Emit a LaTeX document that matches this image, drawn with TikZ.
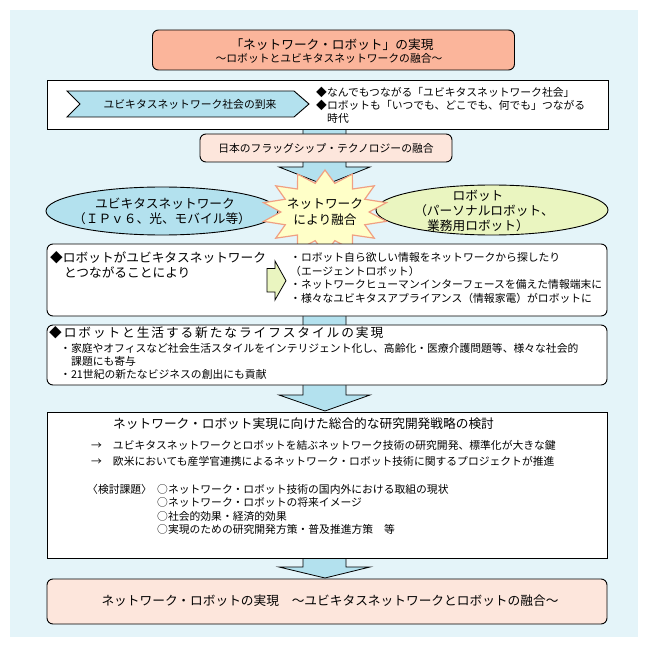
\documentclass[tikz,border=0pt]{standalone}
\usepackage{fontspec}
\setmainfont{Noto Sans CJK JP}
\newfontfamily\jpwide[LetterSpace=15]{Noto Sans CJK JP}
\usetikzlibrary{shapes.geometric}
\definecolor{bgblue}{RGB}{228,244,249}
\definecolor{salmon}{RGB}{251,181,155}
\definecolor{pinkfill}{RGB}{253,230,220}
\definecolor{arrowblue}{RGB}{179,225,238}
\definecolor{limefill}{RGB}{234,245,192}
\definecolor{burstfill}{RGB}{255,255,200}
\definecolor{burstline}{RGB}{240,160,130}
\tikzset{
  frame/.style={draw=black, line width=0.9pt},
  rframe/.style={frame, rounded corners=6pt},
  txt/.style={inner sep=0pt, anchor=west, font=\fontsize{10.8}{13}\selectfont},
  ctxt/.style={inner sep=0pt, anchor=center, font=\fontsize{10.8}{13}\selectfont},
  bigtxt/.style={inner sep=0pt, anchor=west, font=\fontsize{12.7}{15}\selectfont},
  cbigtxt/.style={inner sep=0pt, anchor=center, font=\fontsize{12.7}{15}\selectfont},
  widetxt/.style={inner sep=0pt, anchor=west, font=\jpwide\fontsize{12.7}{15}\selectfont},
  blockarrow/.style={draw=black, line width=0.8pt, fill=arrowblue},
  burst/.style={draw=burstline, line width=1.2pt, fill=burstfill},
}
\begin{document}
\begin{tikzpicture}[x=1pt,y=-1pt]
\useasboundingbox (0,0) rectangle (648,647);
\fill[bgblue] (10,10) rectangle (638,637);

% block arrows (behind boxes)
\draw[blockarrow] (303,125) -- (346,125) -- (346,167) -- (370,167) -- (325,185) -- (279,167) -- (303,167) -- cycle;
\draw[blockarrow] (303,300) -- (346,300) -- (346,395) -- (370,395) -- (325,411) -- (279,395) -- (303,395) -- cycle;
\draw[blockarrow] (303,550) -- (346,550) -- (346,567) -- (370,567) -- (325,578) -- (279,567) -- (303,567) -- cycle;

% title
\node[rframe, fill=salmon, minimum width=362pt, minimum height=40pt] (title) at (333.5,50) {};
\node[cbigtxt] (title1) at (332,45) {「ネットワーク・ロボット」の実現};
\node[ctxt] (title2) at (329,58.5) {～ロボットとユビキタスネットワークの融合～};

% box 2
\node[frame, fill=white, minimum width=561pt, minimum height=49pt] (box2) at (327.5,104.5) {};
\draw[frame, fill=arrowblue] (67,91) -- (294,91) -- (309,104) -- (294,117) -- (67,117) -- (80,104) -- cycle;
\node[ctxt] (chev) at (190,104) {ユビキタスネットワーク社会の到来};
\node[txt] (b2a) at (316,92) {◆なんでもつながる「ユビキタスネットワーク社会」};
\node[txt] (b2b) at (316,105) {◆ロボットも「いつでも、どこでも、何でも」つながる};
\node[txt] (b2c) at (327,118) {時代};

% box 3
\node[rframe, fill=pinkfill, minimum width=252pt, minimum height=28pt] (box3) at (326,148) {};
\node[ctxt] (b3) at (326,148) {日本のフラッグシップ・テクノロジーの融合};

% ellipses
\node[ellipse, frame, fill=arrowblue, minimum width=232pt, minimum height=48pt] (ubi) at (162,211) {};
\node[cbigtxt] (ubi1) at (165,204) {ユビキタスネットワーク};
\node[cbigtxt] (ubi2) at (162,219) {（ＩＰｖ６、光、モバイル等）};
\node[ellipse, frame, fill=limefill, minimum width=232pt, minimum height=50pt] (rob) at (492,210) {};
\node[cbigtxt] (rob1) at (478,196) {ロボット};
\node[cbigtxt] (rob2) at (484,211) {（パーソナルロボット、};
\node[cbigtxt] (rob3) at (478,226) {業務用ロボット）};

% starburst
\foreach \i in {0,...,27}{
  \pgfmathsetmacro\rr{mod(\i,2)==0 ? 1 : 0.7}
  \coordinate (sb\i) at ({325+63*\rr*cos(\i*360/28+90)},{212+42*\rr*sin(\i*360/28+90)});
}
\draw[burst] (sb0) \foreach \i in {1,...,27}{ -- (sb\i)} -- cycle;
\node[cbigtxt] (fuse1) at (325,204) {ネットワーク};
\node[cbigtxt] (fuse2) at (325,220) {により融合};

% box 4
\node[rframe, fill=white, minimum width=560pt, minimum height=72pt] (box4) at (327,280) {};
\node[bigtxt] (b4a) at (50,258) {◆ロボットがユビキタスネットワーク};
\node[bigtxt] (b4b) at (64,272) {とつながることにより};
\draw[frame, fill=limefill, line width=0.8pt] (267,268.5) -- (275,268.5) -- (275,261) -- (286,280.7) -- (275,300) -- (275,292) -- (267,292) -- cycle;
\node[txt] (b4c) at (290,257) {・ロボット自ら欲しい情報をネットワークから探したり};
\node[txt] (b4d) at (290,271) {（エージェントロボット）};
\node[txt] (b4e) at (290,284.5) {・ネットワークヒューマンインターフェースを備えた情報端末に};
\node[txt] (b4f) at (290,298) {・様々なユビキタスアプライアンス（情報家電）がロボットに};

% box 5
\node[rframe, fill=white, minimum width=560pt, minimum height=60pt] (box5) at (327,355) {};
\node[widetxt] (b5a) at (49,333) {◆ロボットと生活する新たなライフスタイルの実現};
\node[txt] (b5b) at (60,348) {・家庭やオフィスなど社会生活スタイルをインテリジェント化し、高齢化・医療介護問題等、様々な社会的};
\node[txt] (b5c) at (71,361) {課題にも寄与};
\node[txt] (b5d) at (60,374) {・21世紀の新たなビジネスの創出にも貢献};

% box 6
\node[frame, fill=white, minimum width=560pt, minimum height=146pt] (box6) at (327,485) {};
\node[bigtxt] (b6a) at (113,424) {ネットワーク・ロボット実現に向けた総合的な研究開発戦略の検討};
\node[txt] (b6b) at (91,445) {→\hspace{11pt}ユビキタスネットワークとロボットを結ぶネットワーク技術の研究開発、標準化が大きな鍵};
\node[txt] (b6c) at (91,461) {→\hspace{11pt}欧米においても産学官連携によるネットワーク・ロボット技術に関するプロジェクトが推進};
\node[txt] (b6d) at (87,489) {〈検討課題〉};
\node[txt] (b6e) at (157,489) {○ネットワーク・ロボット技術の国内外における取組の現状};
\node[txt] (b6f) at (157,502.5) {○ネットワーク・ロボットの将来イメージ};
\node[txt] (b6g) at (157,516) {○社会的効果・経済的効果};
\node[txt] (b6h) at (157,529.5) {○実現のための研究開発方策・普及推進方策　等};

% box 7
\node[rframe, fill=pinkfill, minimum width=560pt, minimum height=45pt] (box7) at (327,601.5) {};
\node[cbigtxt] (b7) at (330,601) {ネットワーク・ロボットの実現　～ユビキタスネットワークとロボットの融合～};
\end{tikzpicture}
\end{document}
